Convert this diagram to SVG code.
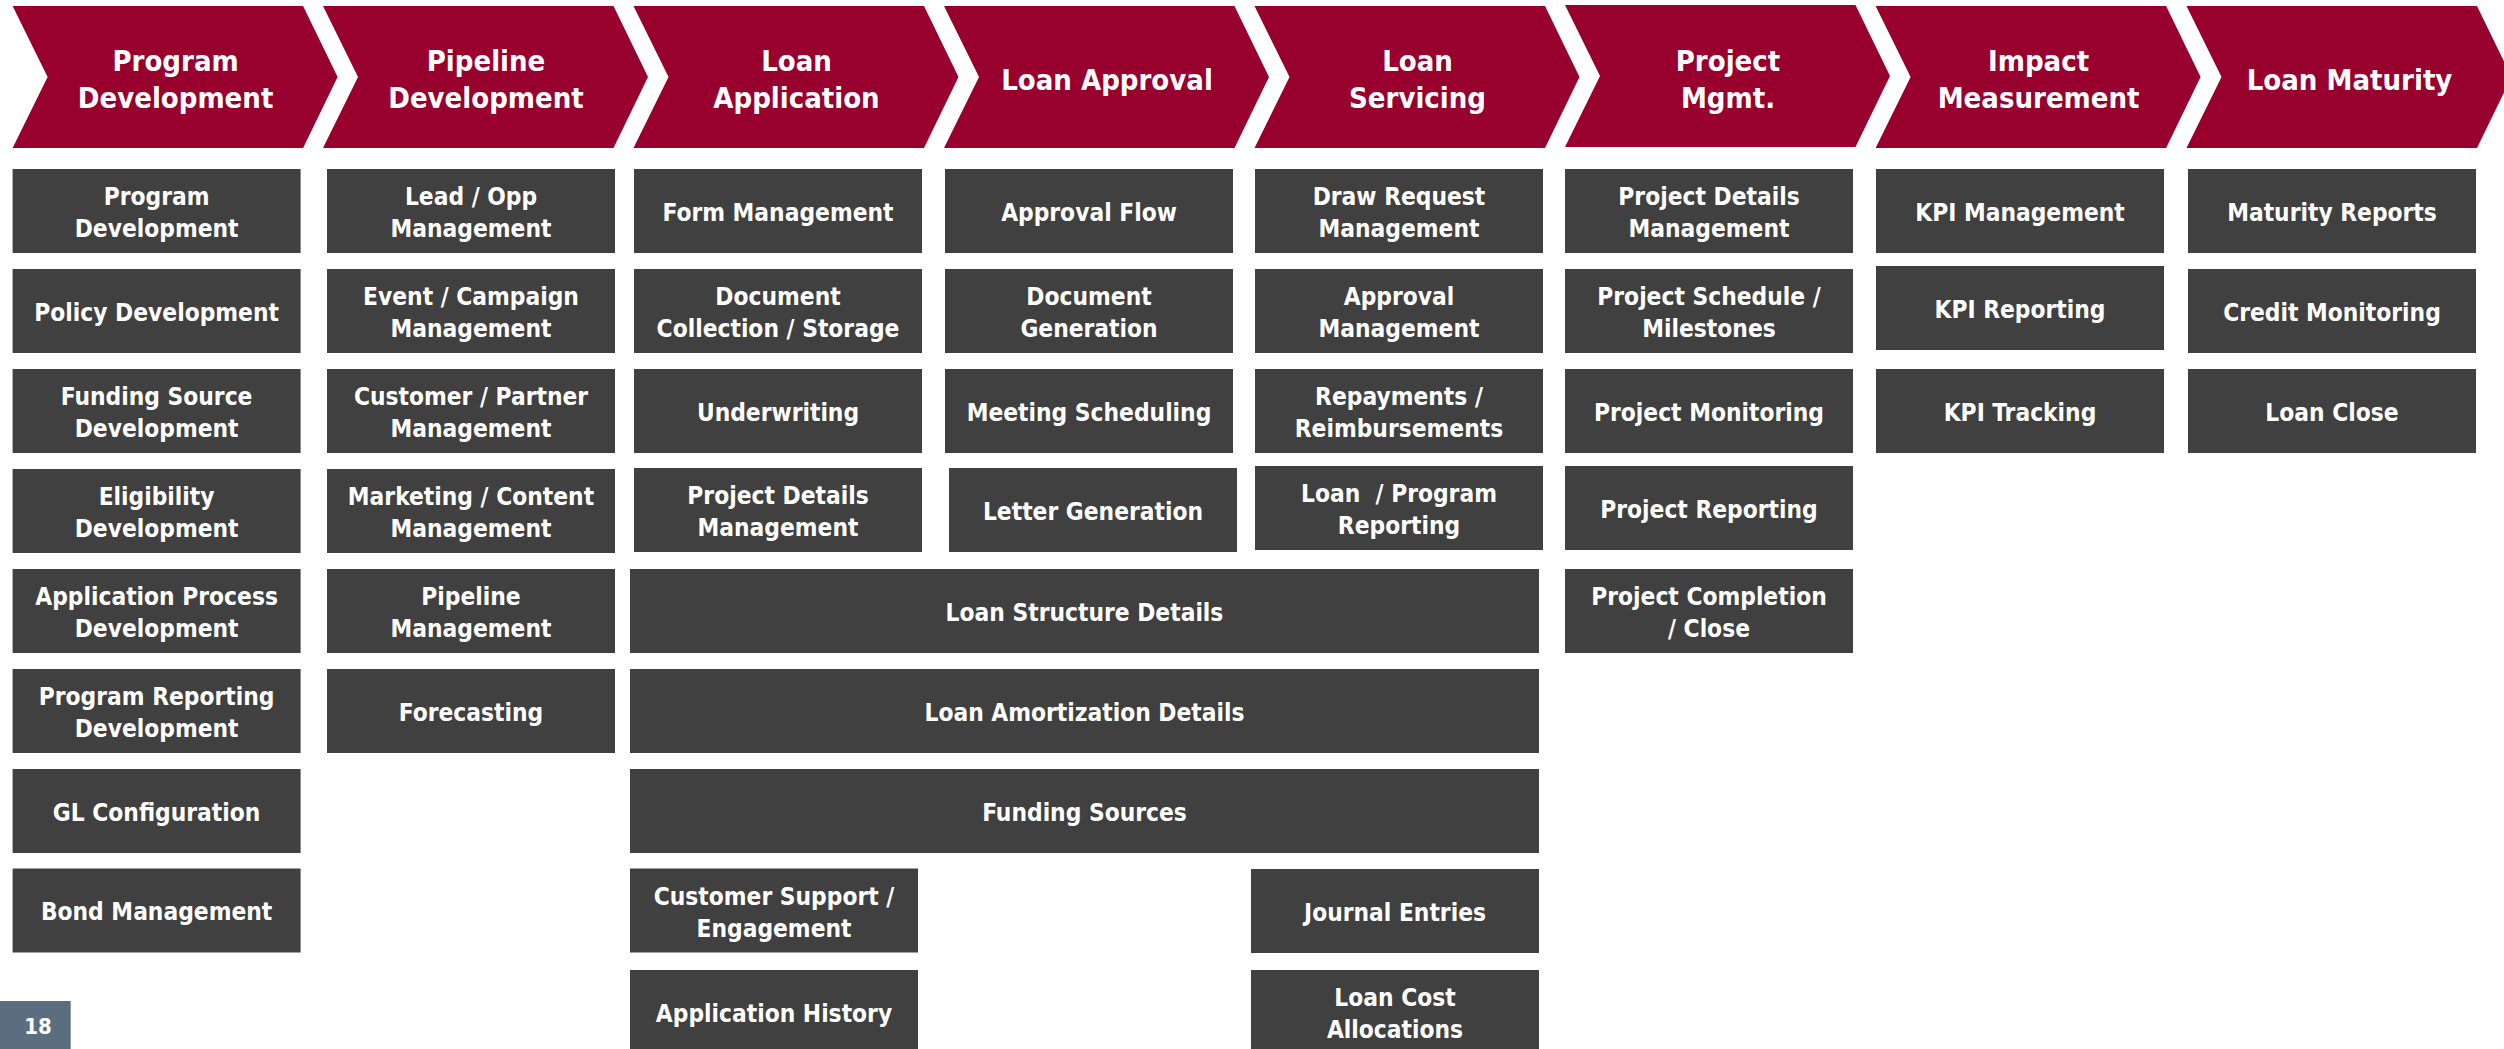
<svg xmlns="http://www.w3.org/2000/svg" xmlns:xlink="http://www.w3.org/1999/xlink" width="2504" height="1049" viewBox="0 0 2504 1049">
  <style>
    .stage { fill: #98002E; }
    .box { fill: #404040; }
    .hd { fill: #FFFFFF; font-family: "DejaVu Sans Condensed", "DejaVu Sans", sans-serif; font-stretch: condensed; font-weight: bold; font-size: 29px; text-anchor: middle; }
    .tx { fill: #FFFFFF; font-family: "DejaVu Sans Condensed", "DejaVu Sans", sans-serif; font-stretch: condensed; font-weight: bold; font-size: 24.3px; text-anchor: middle; }
    .pg { fill: #5B6E80; }
    .pgt { fill: #FFFFFF; font-family: "DejaVu Sans Condensed", "DejaVu Sans", sans-serif; font-stretch: condensed; font-weight: bold; font-size: 22px; text-anchor: middle; }
  </style>
  <defs>
    <!-- chevron stage header, 325 wide incl. tip, 142 tall -->
    <path id="chev" d="M0 0 H290.5 L325 71 L290.5 142 H0 L35 71 Z"/>
  </defs>

  <rect width="2504" height="1049" fill="#FFFFFF"/>

  <!-- process stages -->
  <g id="stages">
    <g id="stage-program-development">
      <use xlink:href="#chev" href="#chev" class="stage" x="12.6" y="6"/>
      <text class="hd" x="175.6" y="70.7">Program</text>
      <text class="hd" x="175.6" y="108.3">Development</text>
    </g>
    <g id="stage-pipeline-development">
      <use xlink:href="#chev" href="#chev" class="stage" x="323" y="6"/>
      <text class="hd" x="486" y="70.7">Pipeline</text>
      <text class="hd" x="486" y="108.3">Development</text>
    </g>
    <g id="stage-loan-application">
      <use xlink:href="#chev" href="#chev" class="stage" x="633.5" y="6"/>
      <text class="hd" x="796.5" y="70.7">Loan</text>
      <text class="hd" x="796.5" y="108.3">Application</text>
    </g>
    <g id="stage-loan-approval">
      <use xlink:href="#chev" href="#chev" class="stage" x="944" y="6"/>
      <text class="hd" x="1107" y="90">Loan Approval</text>
    </g>
    <g id="stage-loan-servicing">
      <use xlink:href="#chev" href="#chev" class="stage" x="1254.5" y="6"/>
      <text class="hd" x="1417.5" y="70.7">Loan</text>
      <text class="hd" x="1417.5" y="108.3">Servicing</text>
    </g>
    <g id="stage-project-mgmt">
      <use xlink:href="#chev" href="#chev" class="stage" x="1565" y="5"/>
      <text class="hd" x="1728" y="70.7">Project</text>
      <text class="hd" x="1728" y="108.3">Mgmt.</text>
    </g>
    <g id="stage-impact-measurement">
      <use xlink:href="#chev" href="#chev" class="stage" x="1875.6" y="6"/>
      <text class="hd" x="2038.6" y="70.7">Impact</text>
      <text class="hd" x="2038.6" y="108.3">Measurement</text>
    </g>
    <g id="stage-loan-maturity">
      <use xlink:href="#chev" href="#chev" class="stage" x="2186.5" y="6"/>
      <text class="hd" x="2349.5" y="90">Loan Maturity</text>
    </g>
  </g>

  <!-- activity boxes: single line baseline = top+51.5, two lines = top+36 / top+68.3 -->
  <g id="activities">
    <!-- Program Development column -->
    <g id="program-development"><rect class="box" x="12.6" y="169" width="288" height="84"/><text class="tx" x="156.6" y="205">Program</text><text class="tx" x="156.6" y="237.3">Development</text></g>
    <g id="policy-development"><rect class="box" x="12.6" y="269" width="288" height="84"/><text class="tx" x="156.6" y="320.5">Policy Development</text></g>
    <g id="funding-source-development"><rect class="box" x="12.6" y="369" width="288" height="84"/><text class="tx" x="156.6" y="405">Funding Source</text><text class="tx" x="156.6" y="437.3">Development</text></g>
    <g id="eligibility-development"><rect class="box" x="12.6" y="469" width="288" height="84"/><text class="tx" x="156.6" y="505">Eligibility</text><text class="tx" x="156.6" y="537.3">Development</text></g>
    <g id="application-process-development"><rect class="box" x="12.6" y="569" width="288" height="84"/><text class="tx" x="156.6" y="605">Application Process</text><text class="tx" x="156.6" y="637.3">Development</text></g>
    <g id="program-reporting-development"><rect class="box" x="12.6" y="669" width="288" height="84"/><text class="tx" x="156.6" y="705">Program Reporting</text><text class="tx" x="156.6" y="737.3">Development</text></g>
    <g id="gl-configuration"><rect class="box" x="12.6" y="769" width="288" height="84"/><text class="tx" x="156.6" y="820.5">GL Configuration</text></g>
    <g id="bond-management"><rect class="box" x="12.6" y="868.5" width="288" height="84"/><text class="tx" x="156.6" y="920">Bond Management</text></g>

    <!-- Pipeline Development column -->
    <g id="lead-opp-management"><rect class="box" x="327" y="169" width="288" height="84"/><text class="tx" x="471" y="205">Lead / Opp</text><text class="tx" x="471" y="237.3">Management</text></g>
    <g id="event-campaign-management"><rect class="box" x="327" y="269" width="288" height="84"/><text class="tx" x="471" y="305">Event / Campaign</text><text class="tx" x="471" y="337.3">Management</text></g>
    <g id="customer-partner-management"><rect class="box" x="327" y="369" width="288" height="84"/><text class="tx" x="471" y="405">Customer / Partner</text><text class="tx" x="471" y="437.3">Management</text></g>
    <g id="marketing-content-management"><rect class="box" x="327" y="469" width="288" height="84"/><text class="tx" x="471" y="505">Marketing / Content</text><text class="tx" x="471" y="537.3">Management</text></g>
    <g id="pipeline-management"><rect class="box" x="327" y="569" width="288" height="84"/><text class="tx" x="471" y="605">Pipeline</text><text class="tx" x="471" y="637.3">Management</text></g>
    <g id="forecasting"><rect class="box" x="327" y="669" width="288" height="84"/><text class="tx" x="471" y="720.5">Forecasting</text></g>

    <!-- Loan Application column -->
    <g id="form-management"><rect class="box" x="634" y="169" width="288" height="84"/><text class="tx" x="778" y="220.5">Form Management</text></g>
    <g id="document-collection-storage"><rect class="box" x="634" y="269" width="288" height="84"/><text class="tx" x="778" y="305">Document</text><text class="tx" x="778" y="337.3">Collection / Storage</text></g>
    <g id="underwriting"><rect class="box" x="634" y="369" width="288" height="84"/><text class="tx" x="778" y="420.5">Underwriting</text></g>
    <g id="project-details-management-app"><rect class="box" x="634" y="468" width="288" height="84"/><text class="tx" x="778" y="504">Project Details</text><text class="tx" x="778" y="536.3">Management</text></g>

    <!-- Loan Approval column -->
    <g id="approval-flow"><rect class="box" x="945" y="169" width="288" height="84"/><text class="tx" x="1089" y="220.5">Approval Flow</text></g>
    <g id="document-generation"><rect class="box" x="945" y="269" width="288" height="84"/><text class="tx" x="1089" y="305">Document</text><text class="tx" x="1089" y="337.3">Generation</text></g>
    <g id="meeting-scheduling"><rect class="box" x="945" y="369" width="288" height="84"/><text class="tx" x="1089" y="420.5">Meeting Scheduling</text></g>
    <g id="letter-generation"><rect class="box" x="949" y="468" width="288" height="84"/><text class="tx" x="1093" y="519.5">Letter Generation</text></g>

    <!-- Loan Servicing column -->
    <g id="draw-request-management"><rect class="box" x="1255" y="169" width="288" height="84"/><text class="tx" x="1399" y="205">Draw Request</text><text class="tx" x="1399" y="237.3">Management</text></g>
    <g id="approval-management"><rect class="box" x="1255" y="269" width="288" height="84"/><text class="tx" x="1399" y="305">Approval</text><text class="tx" x="1399" y="337.3">Management</text></g>
    <g id="repayments-reimbursements"><rect class="box" x="1255" y="369" width="288" height="84"/><text class="tx" x="1399" y="405">Repayments /</text><text class="tx" x="1399" y="437.3">Reimbursements</text></g>
    <g id="loan-program-reporting"><rect class="box" x="1255" y="466" width="288" height="84"/><text class="tx" x="1399" y="502" xml:space="preserve">Loan  / Program</text><text class="tx" x="1399" y="534.3">Reporting</text></g>

    <!-- Project Mgmt. column -->
    <g id="project-details-management"><rect class="box" x="1565" y="169" width="288" height="84"/><text class="tx" x="1709" y="205">Project Details</text><text class="tx" x="1709" y="237.3">Management</text></g>
    <g id="project-schedule-milestones"><rect class="box" x="1565" y="269" width="288" height="84"/><text class="tx" x="1709" y="305">Project Schedule /</text><text class="tx" x="1709" y="337.3">Milestones</text></g>
    <g id="project-monitoring"><rect class="box" x="1565" y="369" width="288" height="84"/><text class="tx" x="1709" y="420.5">Project Monitoring</text></g>
    <g id="project-reporting"><rect class="box" x="1565" y="466" width="288" height="84"/><text class="tx" x="1709" y="517.5">Project Reporting</text></g>
    <g id="project-completion-close"><rect class="box" x="1565" y="569" width="288" height="84"/><text class="tx" x="1709" y="605">Project Completion</text><text class="tx" x="1709" y="637.3">/ Close</text></g>

    <!-- Impact Measurement column -->
    <g id="kpi-management"><rect class="box" x="1876" y="169" width="288" height="84"/><text class="tx" x="2020" y="220.5">KPI Management</text></g>
    <g id="kpi-reporting"><rect class="box" x="1876" y="266" width="288" height="84"/><text class="tx" x="2020" y="317.5">KPI Reporting</text></g>
    <g id="kpi-tracking"><rect class="box" x="1876" y="369" width="288" height="84"/><text class="tx" x="2020" y="420.5">KPI Tracking</text></g>

    <!-- Loan Maturity column -->
    <g id="maturity-reports"><rect class="box" x="2188" y="169" width="288" height="84"/><text class="tx" x="2332" y="220.5">Maturity Reports</text></g>
    <g id="credit-monitoring"><rect class="box" x="2188" y="269" width="288" height="84"/><text class="tx" x="2332" y="320.5">Credit Monitoring</text></g>
    <g id="loan-close"><rect class="box" x="2188" y="369" width="288" height="84"/><text class="tx" x="2332" y="420.5">Loan Close</text></g>

    <!-- shared rows spanning application to servicing -->
    <g id="loan-structure-details"><rect class="box" x="630" y="569" width="909" height="84"/><text class="tx" x="1084.5" y="620.5">Loan Structure Details</text></g>
    <g id="loan-amortization-details"><rect class="box" x="630" y="669" width="909" height="84"/><text class="tx" x="1084.5" y="720.5">Loan Amortization Details</text></g>
    <g id="funding-sources"><rect class="box" x="630" y="769" width="909" height="84"/><text class="tx" x="1084.5" y="820.5">Funding Sources</text></g>

    <g id="customer-support-engagement"><rect class="box" x="630" y="868.5" width="288" height="84"/><text class="tx" x="774" y="904.5">Customer Support /</text><text class="tx" x="774" y="936.8">Engagement</text></g>
    <g id="application-history"><rect class="box" x="630" y="970" width="288" height="84"/><text class="tx" x="774" y="1021.5">Application History</text></g>
    <g id="journal-entries"><rect class="box" x="1251" y="869" width="288" height="84"/><text class="tx" x="1395" y="920.5">Journal Entries</text></g>
    <g id="loan-cost-allocations"><rect class="box" x="1251" y="970" width="288" height="84"/><text class="tx" x="1395" y="1006">Loan Cost</text><text class="tx" x="1395" y="1038.3">Allocations</text></g>
  </g>

  <g id="connectors"/>

  <!-- page number -->
  <g id="page-number">
    <rect class="pg" x="0" y="1001" width="70.7" height="48"/>
    <text class="pgt" x="38" y="1034">18</text>
  </g>
</svg>
